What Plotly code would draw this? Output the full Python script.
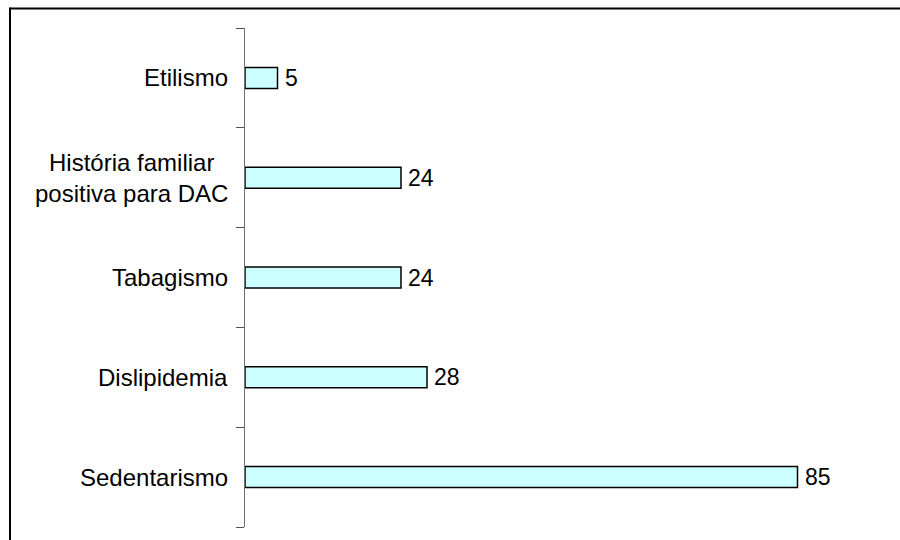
import plotly.graph_objects as go

# Cardiovascular risk factors (count of patients)
categories = [
    "Sedentarismo",
    "Dislipidemia",
    "Tabagismo",
    "História familiar<br>positiva para DAC",
    "Etilismo",
]
values = [85, 28, 24, 24, 5]

FONT = "Liberation Sans, Arial, sans-serif"

fig = go.Figure(
    go.Bar(
        x=values,
        y=categories,
        orientation="h",
        width=0.21,
        marker=dict(color="#CCFFFF", line=dict(color="#000000", width=1.5)),
        cliponaxis=False,
        hoverinfo="skip",
    )
)

# value labels just past the end of each bar
for cat, val in zip(categories, values):
    fig.add_annotation(
        x=val, y=cat, xref="x", yref="y",
        text=str(val), showarrow=False,
        xanchor="left", yanchor="middle", xshift=5,
        font=dict(family=FONT, size=23, color="#000000"),
    )

# category labels, multi-line ones centred line by line
for cat in categories:
    fig.add_annotation(
        x=0, y=cat, xref="paper", yref="y",
        text=cat, showarrow=False,
        xanchor="right", yanchor="middle", align="center", xshift=-15,
        font=dict(family=FONT, size=24, color="#000000"),
    )

# frame: top and left edges of the chart border
border = dict(color="#000000", width=2)
fig.add_shape(type="line", xref="paper", yref="paper",
              xsizemode="pixel", ysizemode="pixel", xanchor=0, yanchor=1,
              x0=-235, x1=700, y0=19.5, y1=19.5, line=border)
fig.add_shape(type="line", xref="paper", yref="paper",
              xsizemode="pixel", ysizemode="pixel", xanchor=0, yanchor=1,
              x0=-235, x1=-235, y0=20.5, y1=-530, line=border)

fig.update_layout(
    width=900,
    height=540,
    margin=dict(l=245, r=70, t=28, b=13),
    paper_bgcolor="#FFFFFF",
    plot_bgcolor="#FFFFFF",
    showlegend=False,
    font=dict(family=FONT, size=23, color="#000000"),
    xaxis=dict(
        range=[0, 90],
        visible=False,
        showgrid=False,
        zeroline=False,
    ),
    yaxis=dict(
        type="category",
        categoryorder="array",
        categoryarray=categories,
        range=[-0.5, 4.5],
        showline=True,
        linecolor="#707070",
        linewidth=1,
        ticks="outside",
        ticklen=8,
        tickcolor="#505050",
        tickwidth=1,
        tickson="boundaries",
        showticklabels=False,
        showgrid=False,
        zeroline=False,
    ),
)

fig.write_html("out.html")
